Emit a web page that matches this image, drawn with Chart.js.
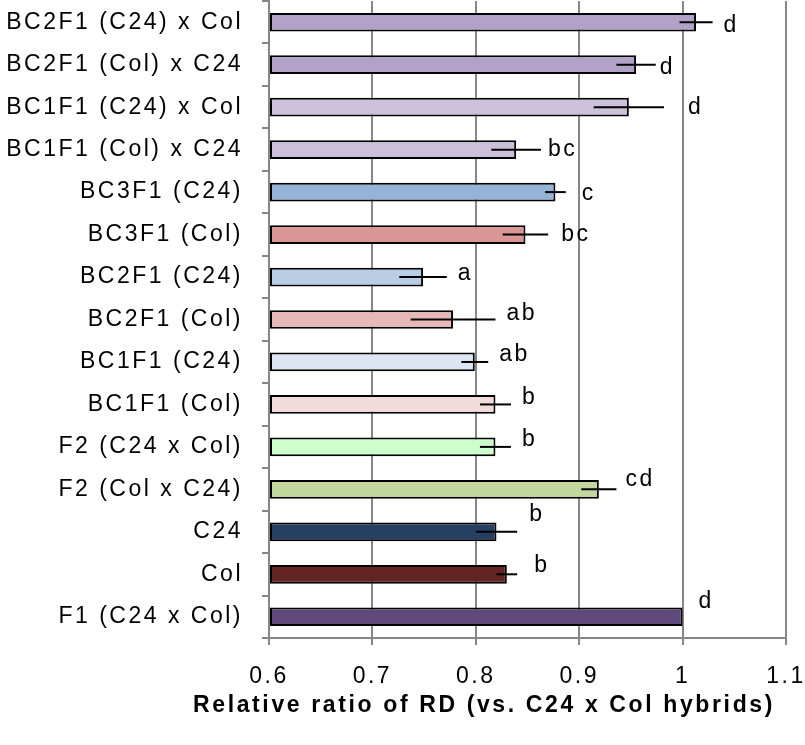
<!DOCTYPE html>
<html>
<head>
<meta charset="utf-8">
<script src="https://cdn.jsdelivr.net/npm/chart.js@4/dist/chart.umd.min.js"></script>
<style>
  html, body { margin: 0; padding: 0; background: #fff; }
  #chart { display: block; }
</style>
</head>
<body>
<canvas id="chart" width="805" height="745"></canvas>
<script>
// Các nhóm (từ trên xuống dưới)
const categories = [
  "BC2F1 (C24) x Col", "BC2F1 (Col) x C24", "BC1F1 (C24) x Col", "BC1F1 (Col) x C24",
  "BC3F1 (C24)", "BC3F1 (Col)", "BC2F1 (C24)", "BC2F1 (Col)", "BC1F1 (C24)", "BC1F1 (Col)",
  "F2 (C24 x Col)", "F2 (Col x C24)", "C24", "Col", "F1 (C24 x Col)"
];
// Giá trị trung bình
const ratios = [1.013, 0.955, 0.948, 0.839, 0.877, 0.848, 0.749, 0.778, 0.799, 0.819, 0.819, 0.919, 0.82, 0.83, 1.0];
// Sai số chuẩn
const errors = [0.016, 0.019, 0.034, 0.024, 0.01, 0.022, 0.023, 0.041, 0.013, 0.015, 0.015, 0.017, 0.02, 0.01, 0];
// Chữ cái thống kê
const letters = ["d", "d", "d", "bc", "c", "bc", "a", "ab", "ab", "b", "b", "cd", "b", "b", "d"];
const xTicks = [0.6, 0.7, 0.8, 0.9, 1, 1.1];
const xTitle = "Relative ratio of RD (vs. C24 x Col hybrids)";

const colors = [
  "#b3a2c7", "#b3a2c7", "#ccc1da", "#ccc1da", "#95b3d7", "#d99694", "#b9cde5", "#e6b9b8",
  "#dce6f2", "#f2dcdb", "#ccffcc", "#c3d69b", "#254061", "#632523", "#604a7b"
];
// Dịch chuyển nhãn chữ (px)
const letterNudge = [
  [0, 3], [-7, 3], [13, 0], [-4, 0], [5, 2], [2, 0], [0, -3], [0, -6],
  [0, -7], [0, -7], [0, -7], [-2, -10], [1, -17], [6, -9], [5, -15]
];

const FONT = "'Liberation Sans', Arial, sans-serif";
const gridGray = "#878787";

// Giãn chữ cho giống hình gốc
const spacing = {
  id: "spacing",
  beforeLayout(chart) { chart.ctx.letterSpacing = "2.5px"; },
  beforeDraw(chart) { chart.ctx.letterSpacing = "2.5px"; }
};

// Thanh sai số + chữ cái + tiêu đề trục
const errorBars = {
  id: "errorBars",
  afterDatasetsDraw(chart) {
    const ctx = chart.ctx;
    const x = chart.scales.x;
    const meta = chart.getDatasetMeta(0);
    ctx.save();
    ctx.strokeStyle = "#000";
    ctx.lineWidth = 2;
    ctx.fillStyle = "#000";
    ctx.font = "23px " + FONT;
    ctx.textBaseline = "middle";
    ctx.textAlign = "left";
    meta.data.forEach((bar, i) => {
      const hi = x.getPixelForValue(ratios[i] + errors[i]);
      if (errors[i] > 0) {
        const lo = x.getPixelForValue(ratios[i] - errors[i]);
        ctx.beginPath();
        ctx.moveTo(lo, bar.y);
        ctx.lineTo(hi, bar.y);
        ctx.stroke();
      }
      ctx.fillText(letters[i], hi + 11 + letterNudge[i][0], bar.y + letterNudge[i][1]);
    });
    ctx.restore();
  },
  afterDraw(chart) {
    const ctx = chart.ctx;
    ctx.save();
    ctx.font = "bold 23px " + FONT;
    ctx.letterSpacing = "0px";
    const w = ctx.measureText(xTitle).width;
    // kéo giãn tiêu đề cho rộng khoảng 582px như hình gốc
    ctx.letterSpacing = Math.max(0, (582 - w) / xTitle.length) + "px";
    ctx.fillStyle = "#000";
    ctx.textAlign = "center";
    ctx.textBaseline = "middle";
    ctx.fillText(xTitle, 484, chart.scales.x.top + 68);
    ctx.restore();
  }
};

const ctx = document.getElementById("chart").getContext("2d");
new Chart(ctx, {
  type: "bar",
  data: {
    labels: categories,
    datasets: [{
      data: ratios,
      base: 0.6,
      backgroundColor: colors,
      borderColor: "#000",
      borderWidth: 2,
      borderSkipped: false,
      barPercentage: 0.44,
      categoryPercentage: 1
    }]
  },
  options: {
    indexAxis: "y",
    responsive: false,
    animation: false,
    layout: { padding: { left: 0, right: 19, top: 1, bottom: 0 } },
    plugins: { legend: { display: false }, tooltip: { enabled: false } },
    scales: {
      x: {
        min: 0.6,
        max: 1.1,
        afterBuildTicks(scale) { scale.ticks = xTicks.map(v => ({ value: v })); },
        afterFit(scale) {
          scale.height = 107;
          scale.paddingLeft = 0;
          scale.paddingRight = 0;
        },
        ticks: {
          color: "#000",
          font: { family: FONT, size: 23 },
          padding: 18,
          callback: v => String(+v.toFixed(1))
        },
        grid: { color: gridGray, lineWidth: 2, tickLength: 7 },
        border: { color: gridGray, width: 2 }
      },
      y: {
        afterFit(scale) {
          scale.width = 269;
          scale.paddingTop = 0;
          scale.paddingBottom = 0;
        },
        ticks: {
          color: "#000",
          font: { family: FONT, size: 23 },
          padding: 19
        },
        grid: { offset: true, drawOnChartArea: false, color: gridGray, lineWidth: 2, tickLength: 7 },
        border: { color: gridGray, width: 2 }
      }
    }
  },
  plugins: [spacing, errorBars]
});
</script>
</body>
</html>
